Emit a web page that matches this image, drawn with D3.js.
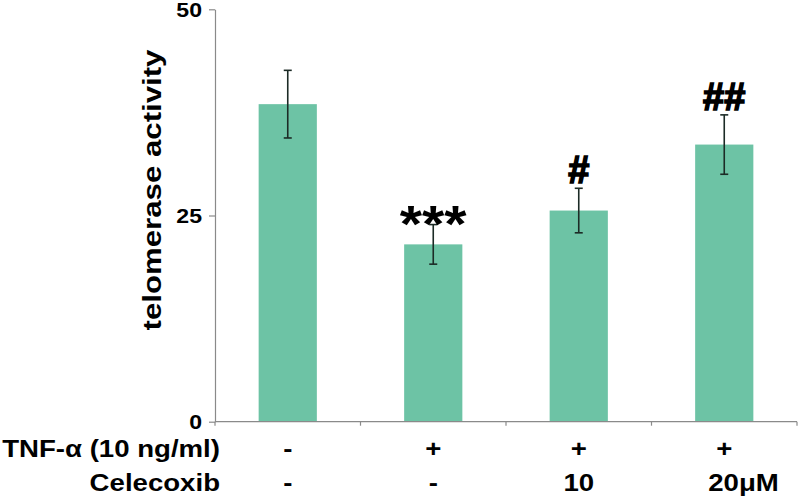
<!DOCTYPE html>
<html>
<head>
<meta charset="utf-8">
<script src="https://cdn.jsdelivr.net/npm/d3@7/dist/d3.min.js"></script>
<style>
  html, body { margin: 0; padding: 0; background: #fff; }
  svg { display: block; }
  text { font-family: "Liberation Sans", Arial, sans-serif; font-weight: bold; fill: #000; }
</style>
</head>
<body>
<svg id="chart" width="800" height="500"></svg>
<script>
// ---- data ----
const groups = ["g1", "g2", "g3", "g4"];
const values = [38.5, 21.5, 25.6, 33.6];
const errors = [4.1, 2.4, 2.7, 3.6];
const marks = ["", "***", "#", "##"];
const tnfRow = ["-", "+", "+", "+"];
const celecoxibRow = ["-", "-", "10", "20\u03bcM"];
const rowLabels = ["TNF-\u03b1 (10 ng/ml)", "Celecoxib"];
const yTicks = [0, 25, 50];
const yTitle = "telomerase activity";

// ---- layout ----
const svg = d3.select("#chart");
const plotLeft = 215, plotRight = 797, plotTop = 9.3, plotBottom = 421.7;
const barColor = "#6dc3a5";
const axisColor = "#8a8a8a";

const x = d3.scaleBand().domain(groups).range([plotLeft, plotRight]).padding(0);
const y = d3.scaleLinear().domain([0, 50]).range([plotBottom, plotTop]);
const barW = x.bandwidth() * 0.4;

function stretch(sel, k) {
  sel.each(function () {
    const w = this.getComputedTextLength();
    d3.select(this).attr("textLength", w * k).attr("lengthAdjust", "spacingAndGlyphs");
  });
}

// bars
svg.append("g").selectAll("rect").data(values).join("rect")
  .attr("x", (d, i) => x(groups[i]) + x.bandwidth() / 2 - barW / 2)
  .attr("y", d => y(d))
  .attr("width", barW)
  .attr("height", d => y(0) - y(d))
  .attr("fill", barColor);

// y axis (lines from d3 axis, labels drawn separately)
const yAxis = svg.append("g")
  .attr("transform", `translate(${plotLeft},0)`)
  .call(d3.axisLeft(y).tickValues(yTicks).tickSize(6).tickFormat("").tickSizeOuter(0));
yAxis.select(".domain").attr("stroke", axisColor).attr("stroke-width", 1.2);
yAxis.selectAll(".tick line").attr("stroke", axisColor).attr("stroke-width", 1.2);
yAxis.selectAll(".tick text").remove();

svg.append("g").selectAll("text.ylab").data(yTicks).join("text")
  .attr("class", "ylab")
  .attr("x", plotLeft - 13)
  .attr("y", d => y(d) + 7.5)
  .attr("text-anchor", "end")
  .style("font-size", "21px")
  .text(d => d)
  .call(stretch, 1.1);

// x axis (ticks at band boundaries)
const xAxis = svg.append("g").attr("transform", `translate(0,${plotBottom})`);
xAxis.append("line").attr("x1", plotLeft).attr("x2", plotRight).attr("y1", 0).attr("y2", 0)
  .attr("stroke", axisColor).attr("stroke-width", 1.2);
const boundaries = groups.map(g => x(g)).concat([plotRight]);
xAxis.selectAll("line.tk").data(boundaries).join("line")
  .attr("class", "tk")
  .attr("x1", d => d).attr("x2", d => d).attr("y1", 0).attr("y2", 4)
  .attr("stroke", axisColor).attr("stroke-width", 1.2);

// error bars
const eb = svg.append("g").attr("stroke", "#1c2b26").attr("stroke-width", 1.6);
values.forEach((v, i) => {
  const cx = x(groups[i]) + x.bandwidth() / 2;
  const y1 = y(v + errors[i]), y2 = y(v - errors[i]);
  eb.append("line").attr("x1", cx).attr("x2", cx).attr("y1", y1).attr("y2", y2);
  eb.append("line").attr("x1", cx - 4).attr("x2", cx + 4).attr("y1", y1).attr("y2", y1);
  eb.append("line").attr("x1", cx - 4).attr("x2", cx + 4).attr("y1", y2).attr("y2", y2);
});

// significance marks
values.forEach((v, i) => {
  const m = marks[i];
  if (!m) return;
  const cx = x(groups[i]) + x.bandwidth() / 2;
  const yt = y(v + errors[i]);
  if (m.startsWith("*")) {
    svg.append("text").attr("x", cx).attr("y", yt + 17)
      .attr("text-anchor", "middle").style("font-size", "52px").text(m)
      .call(stretch, 1.1);
  } else {
    svg.append("text").attr("x", cx).attr("y", yt - 5)
      .attr("text-anchor", "middle").style("font-size", "38px")
      .attr("stroke", "#000").attr("stroke-width", 1.6)
      .text(m);
  }
});

// y title
svg.append("text")
  .attr("transform", `translate(161,${(45 + 335) / 2}) rotate(-90)`)
  .attr("text-anchor", "middle")
  .style("font-size", "26px")
  .text(yTitle)
  .call(stretch, 1.2);

// condition table under axis
const rowY = [457, 491];
rowLabels.forEach((lab, r) => {
  svg.append("text").attr("x", 220).attr("y", rowY[r])
    .attr("text-anchor", "end").style("font-size", "23px").text(lab)
    .call(stretch, 1.2);
});
[tnfRow, celecoxibRow].forEach((row, r) => {
  row.forEach((t, i) => {
    const cx = x(groups[i]) + x.bandwidth() / 2;
    const txt = svg.append("text").attr("y", rowY[r]).style("font-size", "23px").text(t);
    if (t.length > 3) {
      txt.attr("x", cx - 16).attr("text-anchor", "start");
    } else {
      txt.attr("x", cx).attr("text-anchor", "middle");
    }
    txt.call(stretch, 1.2);
  });
});
</script>
</body>
</html>
